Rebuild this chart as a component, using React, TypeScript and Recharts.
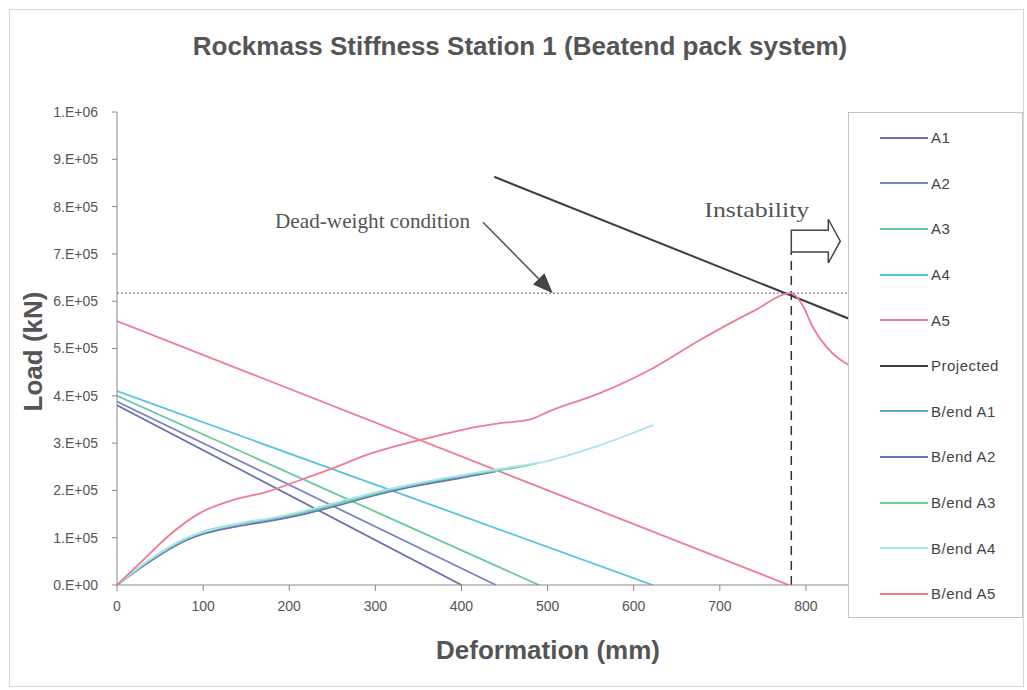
import { LineChart, Line, XAxis, YAxis, ReferenceLine, Legend } from "recharts"

// deformation (mm), load (kN) pairs
const a1 = [[0, 380000], [400, 0]]
const a2 = [[0, 388000], [440, 0]]
const a3 = [[0, 400000], [490, 0]]
const a4 = [[0, 410000], [622, 0]]
const a5 = [[0, 558000], [780, 0]]
const projected = [[438, 863000], [850, 563000]]

const bendA1 = [
  [0, 0], [38, 53000], [77, 95000], [96, 110000], [135, 127000], [174, 137000],
  [213, 152000], [251, 169000], [290, 188000], [329, 207000], [367, 218000], [398, 226000],
]
const bendA2 = [
  [0, 0], [40, 52000], [80, 94000], [100, 108000], [140, 124000], [180, 136000],
  [220, 151000], [260, 170000], [300, 190000], [340, 207000], [380, 220000], [410, 230000], [440, 240000],
]
const bendA3 = [
  [0, 0], [40, 55000], [80, 97000], [100, 111000], [140, 128000], [180, 140000], [220, 155000],
  [260, 173000], [300, 193000], [340, 210000], [380, 224000], [420, 236000], [460, 247000], [490, 258000],
]
const bendA4 = [
  [0, 0], [40, 56000], [80, 99000], [100, 112000], [140, 130000], [180, 142000], [220, 158000],
  [260, 177000], [300, 196000], [340, 212000], [380, 226000], [420, 238000], [460, 250000],
  [490, 258000], [520, 272000], [560, 295000], [600, 322000], [623, 338000],
]
const bendA5 = [
  [0, 0], [30, 52000], [58, 101000], [96, 152000], [135, 180000], [174, 197000], [213, 222000],
  [251, 247000], [290, 275000], [329, 296000], [367, 313000], [406, 330000], [445, 342000],
  [480, 350000], [503, 368000], [560, 405000], [619, 455000], [677, 518000], [740, 580000],
  [783, 617000], [796, 592000], [808, 545000], [824, 503000], [840, 476000], [850, 465000],
]

const deadWeight = 617000
const instabilityAt = 783

const xTicks = [0, 100, 200, 300, 400, 500, 600, 700, 800]
const yTicks = [0, 100000, 200000, 300000, 400000, 500000, 600000, 700000, 800000, 900000, 1000000]
const yTickLabels = ["0.E+00", "1.E+05", "2.E+05", "3.E+05", "4.E+05", "5.E+05", "6.E+05", "7.E+05", "8.E+05", "9.E+05", "1.E+06"]

const toRows = (pts: number[][]) => pts.map(([x, y]) => ({ x, y }))

const series = [
  { name: "A1", pts: a1, color: "#6a6fb0" },
  { name: "A2", pts: a2, color: "#7b84c8" },
  { name: "A3", pts: a3, color: "#66c99a" },
  { name: "A4", pts: a4, color: "#55c3df" },
  { name: "A5", pts: a5, color: "#ec7c8f" },
  { name: "Projected", pts: projected, color: "#3c3c48" },
  { name: "B/end A1", pts: bendA1, color: "#5aaad8" },
  { name: "B/end A2", pts: bendA2, color: "#6870b8" },
  { name: "B/end A3", pts: bendA3, color: "#6fd09b" },
  { name: "B/end A4", pts: bendA4, color: "#a9e4ef" },
  { name: "B/end A5", pts: bendA5, color: "#ef7b91" },
]
const legendOrder = series.map((s) => s.name)

const serif = "'Liberation Serif', 'DejaVu Serif', serif"
const sans = "'Liberation Sans', Arial, sans-serif"

function DeadWeightArrow(props: any) {
  const { x1, y1, x2, y2 } = props
  const dx = x2 - x1
  const dy = y2 - y1
  const len = Math.sqrt(dx * dx + dy * dy)
  const ux = dx / len
  const uy = dy / len
  const hl = 20
  const hw = 8
  const bx = x2 - ux * hl
  const by = y2 - uy * hl
  return (
    <g>
      <line x1={x1} y1={y1} x2={bx} y2={by} stroke="#555" strokeWidth={1.5} />
      <polygon
        points={`${x2},${y2} ${bx - uy * hw},${by + ux * hw} ${bx + uy * hw},${by - ux * hw}`}
        fill="#444"
      />
      <text x={x1 - 208} y={y1 + 6} textLength={195} lengthAdjust="spacingAndGlyphs"
        fontFamily={serif} fontSize={22} fill="#555">
        Dead-weight condition
      </text>
    </g>
  )
}

function InstabilityArrow(props: any) {
  const { x1, y1, y2 } = props
  const top = Math.min(y1, y2)
  const bot = Math.max(y1, y2)
  const mid = (top + bot) / 2
  const body = 37
  const head = 12
  const flare = 11
  const pts = [
    [x1, top], [x1 + body, top], [x1 + body, top - flare], [x1 + body + head, mid],
    [x1 + body, bot + flare], [x1 + body, bot], [x1, bot],
  ].map((p) => p.join(",")).join(" ")
  return (
    <g>
      <polygon points={pts} fill="#fff" stroke="#444" strokeWidth={1.5} />
      <text x={x1 - 87} y={top - 13} textLength={105} lengthAdjust="spacingAndGlyphs"
        fontFamily={serif} fontSize={22} fill="#555">
        Instability
      </text>
    </g>
  )
}

function YLabel(props: any) {
  const vb = props.viewBox
  const cx = vb.x + 33
  const cy = vb.y + vb.height / 2 + 3
  return (
    <text x={cx} y={cy} transform={`rotate(-90 ${cx} ${cy})`} textAnchor="middle" dominantBaseline="central"
      fontFamily={sans} fontWeight="bold" fontSize={26} fill="#555">
      Load (kN)
    </text>
  )
}

function XLabel(props: any) {
  const vb = props.viewBox
  return (
    <text x={vb.x + vb.width / 2 + 65} y={vb.y + 65} textAnchor="middle" dominantBaseline="central"
      fontFamily={sans} fontWeight="bold" fontSize={26} fill="#555">
      Deformation (mm)
    </text>
  )
}

function LegendBox(props: any) {
  const items = [...(props.payload || [])].sort(
    (p: any, q: any) => legendOrder.indexOf(p.value) - legendOrder.indexOf(q.value),
  )
  return (
    <div style={{
      width: 175, height: 506, border: "1px solid #c4c4c4", background: "#fff",
      boxSizing: "border-box", paddingTop: 2, fontFamily: sans, fontSize: 15, letterSpacing: 0.5, color: "#444",
    }}>
      {items.map((it: any) => (
        <div key={it.value} style={{ display: "flex", alignItems: "center", height: 45.6 }}>
          <div style={{ marginLeft: 31, width: 48, height: 2, background: it.color }} />
          <span style={{ marginLeft: 3 }}>{it.value}</span>
        </div>
      ))}
    </div>
  )
}

export default function App() {
  return (
    <div style={{ position: "absolute", left: 0, top: 0, width: 1027, height: 690, background: "#fff" }}>
      <div style={{
        position: "absolute", left: 9, top: 9, width: 1015, height: 678,
        border: "1px solid #d6d6d6", boxSizing: "border-box",
      }} />
      <div style={{
        position: "absolute", left: 0, top: 31, width: 1040, textAlign: "center",
        fontFamily: sans, fontWeight: "bold", fontSize: 26, color: "#555",
      }}>
        Rockmass Stiffness Station 1 (Beatend pack system)
      </div>
      <LineChart width={1027} height={690} margin={{ top: 112, right: 178, bottom: 35, left: 0 }}>
        <XAxis
          type="number"
          dataKey="x"
          domain={[0, 850]}
          ticks={xTicks}
          allowDataOverflow
          height={70}
          tickSize={6}
          tickMargin={10}
          stroke="#888"
          tick={{ fontSize: 14, fill: "#555", fontFamily: sans }}
          label={XLabel}
        />
        <YAxis
          type="number"
          dataKey="y"
          domain={[0, 1000000]}
          ticks={yTicks}
          allowDataOverflow
          width={117}
          tickSize={5}
          tickMargin={14}
          stroke="#888"
          tickFormatter={(v: number) => yTickLabels[yTicks.indexOf(v)]}
          tick={{ fontSize: 14, fill: "#555", fontFamily: sans }}
          label={YLabel}
        />
        <ReferenceLine y={deadWeight} stroke="#666" strokeWidth={1} strokeDasharray="2 2" />
        <ReferenceLine
          segment={[{ x: instabilityAt, y: 0 }, { x: instabilityAt, y: 704000 }]}
          stroke="#333"
          strokeWidth={1.5}
          strokeDasharray="9 6"
        />
        {series.map((s) => (
          <Line
            key={s.name}
            name={s.name}
            data={toRows(s.pts)}
            dataKey="y"
            type={s.pts.length > 2 ? "monotone" : "linear"}
            stroke={s.color}
            strokeWidth={s.name === "Projected" ? 2 : 1.8}
            dot={false}
            activeDot={false}
            isAnimationActive={false}
          />
        ))}
        <ReferenceLine
          segment={[{ x: 425, y: 767000 }, { x: 506, y: deadWeight }]}
          shape={DeadWeightArrow}
        />
        <ReferenceLine
          segment={[{ x: instabilityAt, y: 704000 }, { x: instabilityAt, y: 750000 }]}
          shape={InstabilityArrow}
        />
        <Legend
          layout="vertical"
          align="center"
          verticalAlign="middle"
          wrapperStyle={{ left: 848, top: 112, width: 175, height: 506 }}
          content={LegendBox}
        />
      </LineChart>
    </div>
  )
}
